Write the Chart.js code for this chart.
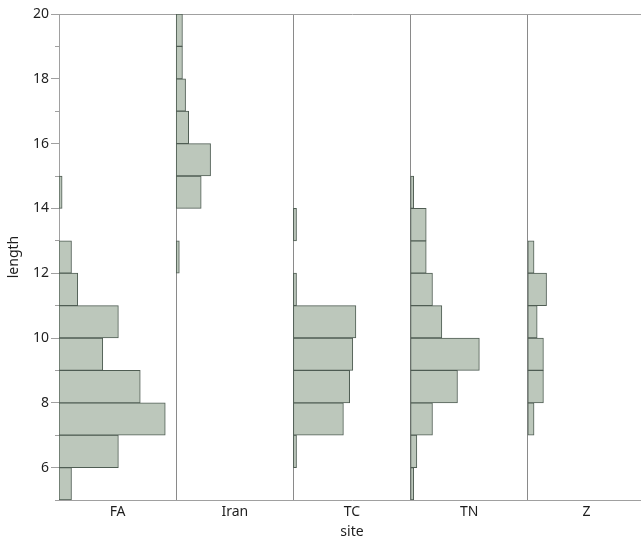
<!DOCTYPE html>
<html>
<head>
<meta charset="utf-8">
<script src="https://cdn.jsdelivr.net/npm/chart.js@4.4.1/dist/chart.umd.min.js"></script>
<style>
    html, body { margin: 0; padding: 0; background: #fff; overflow: hidden; }
    #wrap { width: 641px; height: 536px; overflow: hidden; }
</style>
</head>
<body>
<div id="wrap"><canvas id="histChart" width="645" height="536"></canvas></div>
<script>
// Histogram bins (lower edge of each 1-unit bin of length)
const binStarts = [5, 6, 7, 8, 9, 10, 11, 12, 13, 14, 15, 16, 17, 18, 19];
const sites = ['FA', 'Iran', 'TC', 'TN', 'Z'];

// Counts per bin
const countsFA   = [4, 19, 34, 26, 14, 19, 6, 4, 0, 1, 0, 0, 0, 0, 0];
const countsIran = [0, 0, 0, 0, 0, 0, 0, 1, 0, 8, 11, 4, 3, 2, 2];
const countsTC   = [0, 1, 16, 18, 19, 20, 1, 0, 1, 0, 0, 0, 0, 0, 0];
const countsTN   = [1, 2, 7, 15, 22, 10, 7, 5, 5, 1, 0, 0, 0, 0, 0];
const countsZ    = [0, 0, 2, 5, 5, 3, 6, 2, 0, 0, 0, 0, 0, 0, 0];

const allCounts = [countsFA, countsIran, countsTC, countsTN, countsZ];

// Count range shown in each site panel
const panelMax = 37.5;

const fillColor = '#bcc7bb';
const edgeColor = '#4f5d53';
const axisColor = '#a0a0a0';
const textColor = '#1e1e1e';
const fontFamily = "'Noto Sans', 'Open Sans', sans-serif";

// Build one floating-bar dataset per site, shifted into its own panel
function buildDataset(counts, k) {
    const offset = k * panelMax;
    const points = [];
    counts.forEach((c, i) => {
        if (c > 0) {
            points.push({ y: binStarts[i] + 0.5, x: [offset, offset + c] });
        }
    });
    return {
        label: sites[k],
        data: points,
        xAxisID: 'x',
        yAxisID: 'y',
        backgroundColor: fillColor,
        borderColor: edgeColor,
        borderWidth: 1,
        borderSkipped: false,
        grouped: false,
        barPercentage: 1,
        categoryPercentage: 1
    };
}

window.onload = function() {
    const ctx = document.getElementById('histChart').getContext('2d');

    new Chart(ctx, {
        type: 'bar',
        data: {
            labels: sites,
            datasets: allCounts.map((c, k) => buildDataset(c, k))
        },
        options: {
            indexAxis: 'y',
            responsive: false,
            animation: false,
            layout: {
                padding: { top: 14, right: 0, bottom: 0, left: 0 }
            },
            plugins: {
                legend: { display: false },
                tooltip: { enabled: false }
            },
            scales: {
                y: {
                    type: 'linear',
                    position: 'left',
                    min: 5,
                    max: 20,
                    offset: false,
                    ticks: {
                        stepSize: 1,
                        padding: 2,
                        color: textColor,
                        font: { family: fontFamily, size: 14 },
                        callback: v => (v % 2 === 0 ? v : '')
                    },
                    grid: {
                        offset: false,
                        drawOnChartArea: false,
                        tickLength: 8,
                        tickColor: axisColor,
                        tickBorderDash: c => (c.tick && c.tick.value % 2 ? [0, 4, 5, 20] : [])
                    },
                    border: { color: axisColor },
                    title: {
                        display: true,
                        text: 'length',
                        color: textColor,
                        font: { family: fontFamily, size: 14 },
                        padding: { top: 6, bottom: 0 }
                    },
                    afterFit: s => { s.width = 59; }
                },
                x: {
                    type: 'linear',
                    position: 'top',
                    min: 0,
                    max: panelMax * sites.length,
                    ticks: { display: false },
                    grid: { display: false },
                    border: { display: true, color: axisColor },
                    afterFit: s => { s.height = 0; }
                },
                xSite: {
                    type: 'category',
                    position: 'bottom',
                    offset: true,
                    labels: sites,
                    ticks: {
                        padding: 4,
                        color: textColor,
                        font: { family: fontFamily, size: 14 }
                    },
                    grid: {
                        offset: true,
                        drawTicks: false,
                        color: '#8a8a8a'
                    },
                    border: { color: axisColor },
                    title: {
                        display: true,
                        text: 'site',
                        color: textColor,
                        font: { family: fontFamily, size: 14 },
                        padding: { top: 0, bottom: -4 }
                    },
                    afterFit: s => { s.height = 36; }
                }
            }
        }
    });
};
</script>
</body>
</html>
